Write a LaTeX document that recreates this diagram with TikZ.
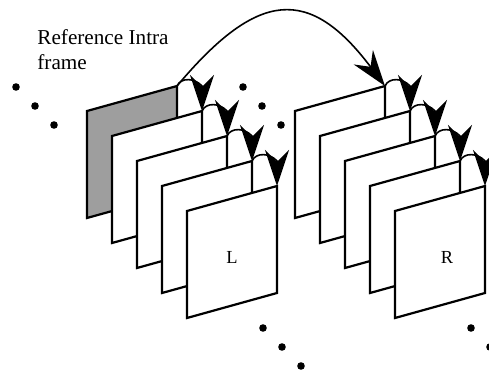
\documentclass[tikz,border=0pt]{standalone}
\usepackage{fontspec}
\setmainfont{Liberation Serif}
\usetikzlibrary{arrows.meta}
\begin{document}
\begin{tikzpicture}[x=0.5pt,y=-0.5pt]
  \clip (0,0) rectangle (489,374);
  \tikzstyle{frame} = [draw, line width=1.1pt, line join=miter]
  \tikzstyle{hop} = [draw, -{Stealth[length=18pt,width=12pt,inset=6pt]}, line width=0.8pt]
  \tikzstyle{dot} = [fill, circle, inner sep=0pt, minimum size=3.8pt]
  \foreach \s/\dx/\back in {l/0/black!38, r/208/white}{
    \foreach \i in {0,...,4}{
      \pgfmathtruncatemacro{\x}{87 + \dx + 25*\i}
      \pgfmathtruncatemacro{\y}{111 + 25*\i}
      \ifnum\i=0 \def\tone{\back}\else\def\tone{white}\fi

      \path[frame, fill=\tone] (\x,\y) -- ++(0,107) -- ++(90,-25) -- ++(0,-107) -- cycle;
      \coordinate (\s\i) at (\x+90,\y-25);
    }
  }
  \foreach \s in {l,r}{
    \foreach \i in {0,...,3}{
      \pgfmathtruncatemacro{\j}{\i + 1}

      \path[hop] (\s\i) .. controls +(4,-9) and +(-7,-8) .. ++(25,0) -- (\s\j);
    }
  }
  \path[hop]
  (l0) to[out=50, in=127, looseness=1.55] (r0);
  \foreach \px/\py [count=\k] in {16/87, 243/87, 263/328, 471/328}{
    \foreach \m in {0,1,2}{
      \node[dot] (dot\k\m) at (\px + 19*\m, \py + 19*\m) {};
    }
  }
  \node[anchor=base west, align=left, inner sep=0pt,
    font=\fontsize{10.6}{12.5}\selectfont] (caption) at (37,70) {Reference Intra\\frame};
  \node[font=\fontsize{9.2}{11}\selectfont] (viewL) at (232,257) {L};
  \node[font=\fontsize{9.2}{11}\selectfont] (viewR) at (447,257) {R};
\end{tikzpicture}
\end{document}
